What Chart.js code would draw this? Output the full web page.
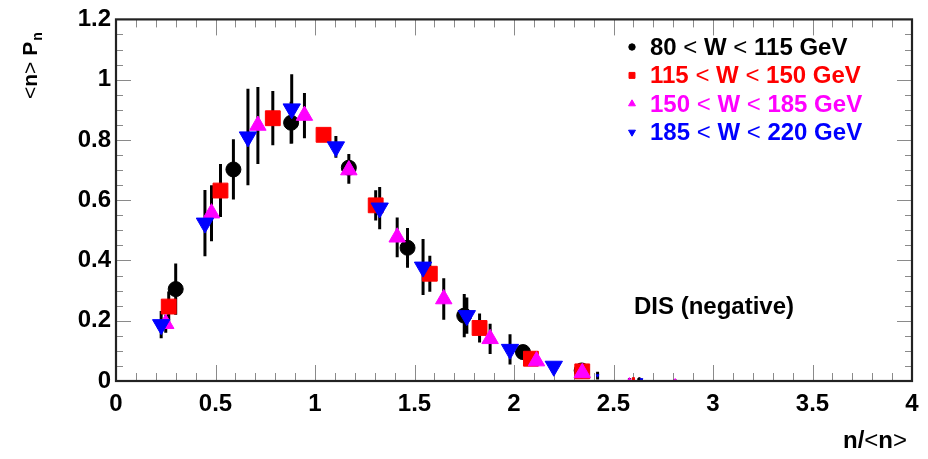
<!DOCTYPE html>
<html>
<head>
<meta charset="utf-8">
<title>Multiplicity distribution, DIS (negative)</title>
<script src="https://cdn.jsdelivr.net/npm/chart.js@4/dist/chart.umd.min.js"></script>
<style>
  html, body { margin: 0; padding: 0; background: #ffffff; }
  #wrap { width: 928px; height: 459px; position: relative; }
</style>
</head>
<body>
<div id="wrap"><canvas id="chart" width="928" height="459"></canvas></div>
<script>
// ---- data: scaled multiplicity n/<n>, <n>P_n and its uncertainty per W bin ----
const seriesLabels = ['80 < W < 115 GeV', '115 < W < 150 GeV', '150 < W < 185 GeV', '185 < W < 220 GeV'];

const xW1 = [0.30, 0.59, 0.88, 1.17, 1.465, 1.75, 2.045, 2.34, 2.63];
const yW1 = [0.305, 0.702, 0.857, 0.708, 0.442, 0.217, 0.096, 0.035, 0.006];
const eW1 = [0.085, 0.10, 0.07, 0.045, 0.066, 0.072, 0.02, 0.01, 0.004];

const xW2 = [0.265, 0.525, 0.788, 1.043, 1.305, 1.577, 1.827, 2.085, 2.343, 2.60];
const yW2 = [0.247, 0.632, 0.872, 0.817, 0.583, 0.356, 0.176, 0.074, 0.032, 0.007];
const eW2 = [0.05, 0.088, 0.09, 0.015, 0.05, 0.06, 0.048, 0.015, 0.01, 0.004];

const xW3 = [0.25, 0.48, 0.713, 0.947, 1.17, 1.413, 1.647, 1.88, 2.113, 2.343, 2.58, 2.81];
const yW3 = [0.19, 0.557, 0.848, 0.881, 0.70, 0.477, 0.272, 0.14, 0.066, 0.027, 0.006, 0.003];
const eW3 = [0.03, 0.093, 0.128, 0.075, 0.045, 0.066, 0.069, 0.05, 0.015, 0.01, 0.004, 0.002];

const xW4 = [0.227, 0.447, 0.663, 0.883, 1.105, 1.325, 1.543, 1.763, 1.98, 2.20, 2.42, 2.64];
const yW4 = [0.187, 0.524, 0.81, 0.903, 0.777, 0.574, 0.378, 0.217, 0.105, 0.049, 0.018, 0.005];
const eW4 = [0.045, 0.11, 0.16, 0.115, 0.036, 0.07, 0.093, 0.06, 0.05, 0.01, 0.013, 0.003];

const xTickValues = [0, 0.5, 1, 1.5, 2, 2.5, 3, 3.5, 4];
const xTickLabels = ['0', '0.5', '1', '1.5', '2', '2.5', '3', '3.5', '4'];
const yTickValues = [0, 0.2, 0.4, 0.6, 0.8, 1, 1.2];
const yTickLabels = ['0', '0.2', '0.4', '0.6', '0.8', '1', '1.2'];

const xAxisTitle = 'n/<n>';
const yAxisTitle = '<n> P';
const yAxisTitleSub = 'n';
const sampleLabel = 'DIS (negative)';

// ---- styling ----
const FONT = "'Liberation Sans', Arial, Helvetica, sans-serif";
const colors = ['#000000', '#ff0000', '#ff00ff', '#0000ff'];
const styles = [
  { pointStyle: 'circle',   radius: 7.5,  rotation: 0,   legendRadius: 3.2 },
  { pointStyle: 'rect',     radius: 10.5, rotation: 0,   legendRadius: 4.2 },
  { pointStyle: 'triangle', radius: 9.5,  rotation: 0,   legendRadius: 4 },
  { pointStyle: 'triangle', radius: 10,   rotation: 180, legendRadius: 4 }
];

function points(xs, ys, es) {
  return xs.map((x, i) => ({ x: x, y: ys[i], e: es[i] }));
}
const tables = [
  points(xW1, yW1, eW1),
  points(xW2, yW2, eW2),
  points(xW3, yW3, eW3),
  points(xW4, yW4, eW4)
];

// text with thin angle brackets, bold elsewhere
function runWidth(ctx, text, size) {
  let w = 0;
  text.split(/([<>])/).filter(s => s.length).forEach(p => {
    ctx.font = (p === '<' || p === '>' ? '' : 'bold ') + size + 'px ' + FONT;
    w += ctx.measureText(p).width;
  });
  return w;
}
function drawRuns(ctx, text, x, y, size, color) {
  ctx.fillStyle = color;
  ctx.textBaseline = 'alphabetic';
  ctx.textAlign = 'left';
  text.split(/([<>])/).filter(s => s.length).forEach(p => {
    ctx.font = (p === '<' || p === '>' ? '' : 'bold ') + size + 'px ' + FONT;
    ctx.fillText(p, x, y);
    x += ctx.measureText(p).width;
  });
  return x;
}

// vertical error bars behind the markers
const errorBars = {
  id: 'errorBars',
  beforeDatasetsDraw(chart) {
    const { ctx, scales: { x, y }, chartArea } = chart;
    ctx.save();
    ctx.beginPath();
    ctx.rect(chartArea.left, chartArea.top, chartArea.right - chartArea.left, chartArea.bottom - chartArea.top);
    ctx.clip();
    ctx.strokeStyle = '#000000';
    ctx.lineWidth = 3;
    ctx.beginPath();
    chart.data.datasets.forEach(ds => {
      ds.data.forEach(p => {
        const px = x.getPixelForValue(p.x);
        ctx.moveTo(px, y.getPixelForValue(p.y - p.e));
        ctx.lineTo(px, y.getPixelForValue(p.y + p.e));
      });
    });
    ctx.stroke();
    ctx.restore();
  }
};

// frame with inward ticks on all four sides
const frame = {
  id: 'frame',
  beforeDatasetsDraw(chart) {
    const { ctx, scales: { x, y }, chartArea: a } = chart;
    ctx.save();
    ctx.strokeStyle = '#8a8a8a';
    ctx.lineWidth = 1;
    ctx.beginPath();
    for (let k = 0; k <= 40; k++) {
      const v = k / 10;
      const len = (k % 5 === 0) ? 16 : 8;
      const px = Math.round(x.getPixelForValue(v)) + 0.5;
      ctx.moveTo(px, a.bottom); ctx.lineTo(px, a.bottom - len);
      ctx.moveTo(px, a.top); ctx.lineTo(px, a.top + len);
    }
    for (let k = 0; k <= 24; k++) {
      const v = k / 20;
      const len = (k % 4 === 0) ? 15 : 7;
      const py = Math.round(y.getPixelForValue(v)) + 0.5;
      ctx.moveTo(a.left, py); ctx.lineTo(a.left + len, py);
      ctx.moveTo(a.right, py); ctx.lineTo(a.right - len, py);
    }
    ctx.stroke();
    ctx.restore();
  },
  afterDatasetsDraw(chart) {
    const { ctx, chartArea: a } = chart;
    ctx.save();
    ctx.strokeStyle = '#222222';
    ctx.lineWidth = 2.2;
    ctx.strokeRect(a.left, a.top, a.right - a.left, a.bottom - a.top);
    ctx.restore();
  }
};

// legend, sample label and axis titles
const annotations = {
  id: 'annotations',
  afterDraw(chart) {
    const ctx = chart.ctx;
    ctx.save();
    // legend
    const lx = 632, tx = 650, base0 = 55, step = 28.4;
    seriesLabels.forEach((label, i) => {
      const base = base0 + i * step;
      const st = styles[i];
      ctx.fillStyle = colors[i];
      ctx.strokeStyle = colors[i];
      Chart.helpers.drawPoint(ctx, {
        pointStyle: st.pointStyle, radius: st.legendRadius, rotation: st.rotation, borderWidth: 1
      }, lx, base - 8);
      drawRuns(ctx, label, tx, base, 24, colors[i]);
    });
    // sample label
    drawRuns(ctx, sampleLabel, 634, 314, 24, '#000000');
    // x axis title, right aligned to the frame
    const w = runWidth(ctx, xAxisTitle, 24);
    drawRuns(ctx, xAxisTitle, 907 - w, 448, 24, '#000000');
    // y axis title, rotated, with subscript
    ctx.translate(37, 99);
    ctx.rotate(-Math.PI / 2);
    const end = drawRuns(ctx, yAxisTitle, 0, 0, 21, '#000000');
    ctx.font = 'bold 14px ' + FONT;
    ctx.fillText(yAxisTitleSub, end + 1, 5);
    ctx.restore();
  }
};

const datasets = tables.map((data, i) => ({
  label: seriesLabels[i],
  data: data,
  showLine: false,
  order: 4 - i,
  pointStyle: styles[i].pointStyle,
  pointRotation: styles[i].rotation,
  pointRadius: ctx => (ctx.raw && ctx.raw.y < 0.02) ? 1.6 : styles[i].radius,
  pointHoverRadius: ctx => (ctx.raw && ctx.raw.y < 0.02) ? 1.6 : styles[i].radius,
  pointBackgroundColor: colors[i],
  pointBorderColor: colors[i],
  pointBorderWidth: 1
}));

const tickFont = { family: FONT, size: 24, weight: 'bold' };

new Chart(document.getElementById('chart'), {
  type: 'scatter',
  data: { datasets: datasets },
  options: {
    responsive: false,
    animation: false,
    devicePixelRatio: 1,
    layout: { padding: { left: 0, right: 16, top: 17, bottom: 0 } },
    plugins: {
      legend: { display: false },
      tooltip: { enabled: false },
      title: { display: false }
    },
    scales: {
      x: {
        type: 'linear',
        min: 0, max: 4,
        grid: { display: false, drawTicks: false },
        border: { display: false },
        afterBuildTicks: s => { s.ticks = xTickValues.map(v => ({ value: v })); },
        afterFit: s => { s.height = 78; },
        ticks: {
          font: tickFont, color: '#000000', padding: 9, maxRotation: 0, autoSkip: false,
          callback: (v, i) => xTickLabels[i]
        }
      },
      y: {
        type: 'linear',
        min: 0, max: 1.2,
        grid: { display: false, drawTicks: false },
        border: { display: false },
        afterBuildTicks: s => { s.ticks = yTickValues.map(v => ({ value: v })); },
        afterFit: s => { s.width = 116; },
        ticks: {
          font: tickFont, color: '#000000', padding: 5, autoSkip: false,
          callback: (v, i) => yTickLabels[i]
        }
      }
    }
  },
  plugins: [frame, errorBars, annotations]
});
</script>
</body>
</html>
